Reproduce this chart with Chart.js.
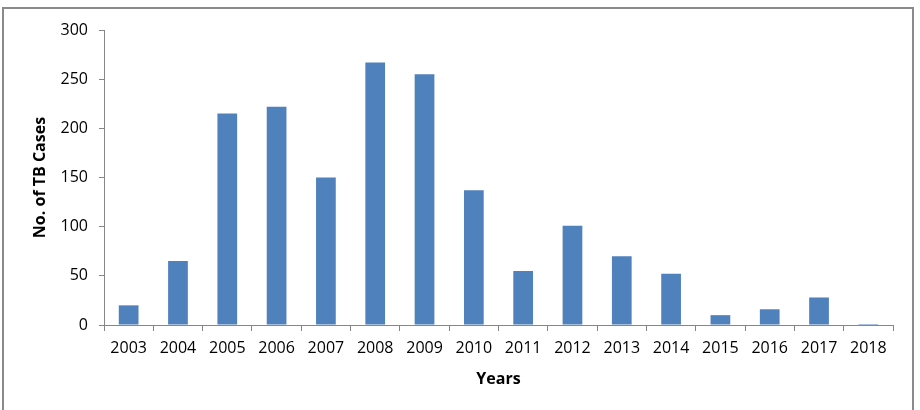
<!DOCTYPE html>
<html>
<head>
<meta charset="utf-8">
<script src="https://cdn.jsdelivr.net/npm/chart.js@4.4.1/dist/chart.umd.min.js"></script>
<style>
  html, body { margin: 0; padding: 0; background: #fff; }
  #wrap { position: relative; width: 920px; height: 410px; overflow: hidden; }
  #frame { position: absolute; left: 2px; top: 7px; width: 908px; height: 420px; border: 2px solid #8a8a8a; }
  canvas { position: absolute; left: 0; top: 0; }
</style>
</head>
<body>
<div id="wrap">
  <div id="frame"></div>
  <canvas id="tbChart" width="920" height="410"></canvas>
</div>
<script>
// data
const years = ['2003', '2004', '2005', '2006', '2007', '2008', '2009', '2010',
               '2011', '2012', '2013', '2014', '2015', '2016', '2017', '2018'];
const tbCases = [20, 65, 215, 222, 150, 267, 255, 137, 55, 101, 70, 52, 10, 16, 28, 1];
const yTicks = [0, 50, 100, 150, 200, 250, 300];

const axisGray = '#868686';
const fontFamily = "'Open Sans', 'Liberation Sans', sans-serif";

const ctx = document.getElementById('tbChart').getContext('2d');
new Chart(ctx, {
  type: 'bar',
  data: {
    labels: years,
    datasets: [{
      data: tbCases,
      backgroundColor: '#4f81bd',
      barPercentage: 0.4,
      categoryPercentage: 1.0,
    }],
  },
  options: {
    responsive: false,
    animation: false,
    layout: {
      padding: { left: 0, top: 30, right: 27, bottom: 0 },
    },
    plugins: {
      legend: { display: false },
      tooltip: { enabled: false },
    },
    scales: {
      x: {
        grid: {
          drawOnChartArea: false,
          color: axisGray,
          tickLength: 6,
        },
        border: { color: axisGray },
        ticks: {
          color: '#000',
          padding: 8,
          maxRotation: 0,
          font: { family: fontFamily, size: 16 },
        },
        title: {
          display: true,
          text: 'Years',
          color: '#000',
          padding: { top: 0, bottom: 21 },
          font: { family: fontFamily, size: 16, weight: 'bold' },
        },
        afterFit: (scale) => { scale.height = 85; },
      },
      y: {
        min: 0,
        max: 300,
        afterBuildTicks: (scale) => { scale.ticks = yTicks.map(v => ({ value: v })); },
        grid: {
          drawOnChartArea: false,
          color: axisGray,
          tickLength: 5,
        },
        border: { color: axisGray },
        ticks: {
          color: '#000',
          padding: 11,
          font: { family: fontFamily, size: 16 },
        },
        title: {
          display: true,
          text: 'No. of TB Cases',
          color: '#000',
          padding: { top: 31, bottom: 0 },
          font: { family: fontFamily, size: 16, weight: 'bold' },
        },
        afterFit: (scale) => { scale.width = 104; },
      },
    },
  },
});
</script>
</body>
</html>
